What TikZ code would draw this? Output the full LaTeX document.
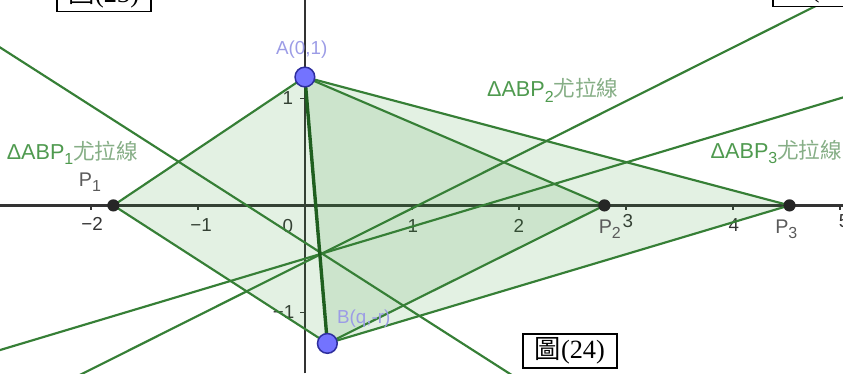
\documentclass[tikz,border=0pt]{standalone}
\usepackage{fontspec}
\setmainfont{Liberation Sans}
\newfontfamily\cjkfont{Noto Sans CJK TC}
\newfontfamily\boxserif{Liberation Serif}
\usetikzlibrary{positioning}
\definecolor{LineGreen}{HTML}{367F36}
\definecolor{SegGreen}{HTML}{1F5F1F}
\definecolor{FillGreen}{HTML}{3C9A3C}
\definecolor{TextGreen}{HTML}{4F9A4F}
\definecolor{HanGreen}{HTML}{86AE86}
\definecolor{PointBlue}{HTML}{7373FF}
\definecolor{PointRim}{HTML}{2E2E9E}
\definecolor{CoordBlue}{HTML}{9C9CE6}
\definecolor{AxisGray}{HTML}{333333}
\definecolor{LabelGray}{HTML}{5A5A5A}
\newcommand{\lowsub}[1]{\raisebox{-0.45ex}{\fontsize{8.5}{8.5}\selectfont #1}}

\begin{document}
\begin{tikzpicture}[x=2cm, y=2cm,
    every node/.style={font=\fontsize{10}{10}\selectfont},
    axisline/.style={AxisGray, line width=1.3pt},
    tickmark/.style={AxisGray, line width=0.9pt},
    ticklabel/.style={text=AxisGray, inner sep=0pt},
    side/.style={LineGreen, line width=1.15pt, line join=round},
    seg/.style={SegGreen, line width=1.8pt},
    tri/.style={fill=FillGreen, fill opacity=0.14},
    euler/.style={LineGreen, line width=1.15pt},
    eulerlabel/.style={anchor=west, inner sep=0pt, text=TextGreen, font=\fontsize{11.5}{11.5}\selectfont},
    movable/.style={circle, draw=PointRim, fill=PointBlue, line width=0.8pt, minimum size=10.5pt, inner sep=0pt},
    fixedpt/.style={circle, fill=black!85, minimum size=6.5pt, inner sep=0pt},
    ptlabel/.style={text=LabelGray, inner sep=0pt, font=\fontsize{10.5}{10.5}\selectfont},
    coordlabel/.style={text=CoordBlue, inner sep=0pt},
    figbox/.style={draw=black, line width=1pt, fill=white, inner xsep=2pt, inner ysep=1pt, minimum width=50pt, minimum height=18pt, font=\fontsize{14}{14}\selectfont}
]
\useasboundingbox (-2.85,-1.57) rectangle (5.03,1.92);
\clip (-2.85,-1.57) rectangle (5.03,1.92);
\coordinate (A) at (0,1.2);
\coordinate (B) at (0.21,-1.29);
\coordinate (P1) at (-1.79,0);
\coordinate (P2) at (2.80,0);
\coordinate (P3) at (4.53,0);
\coordinate (xl) at (-2.85,0);
\coordinate (xr) at (5.03,0);
\coordinate (yb) at (0,-1.57);
\coordinate (yt) at (0,1.92);
\coordinate (e1s) at (-3,1.573);
\coordinate (e1e) at (2.2,-1.756);
\coordinate (e2s) at (-2.6,-1.834);
\coordinate (e2e) at (5.2,2.077);
\coordinate (e3s) at (-3,-1.397);
\coordinate (e3e) at (5.2,1.060);

\draw[axisline] (xl) -- (xr);
\draw[axisline] (yb) -- (yt);
\draw[tickmark] (-2,0) -- (-2,-0.045) (-1,0) -- (-1,-0.045) (1,0) -- (1,-0.045) (2,0) -- (2,-0.045)
    (3,0) -- (3,-0.045) (4,0) -- (4,-0.045) (5,0) -- (5,-0.045) (0,1) -- (-0.05,1) (0,-1) -- (-0.05,-1);
\node[ticklabel] (tm2) at (-1.99,-0.17) {−2};
\node[ticklabel] (tm1) at (-0.97,-0.18) {−1};
\node[ticklabel] (t0) at (-0.16,-0.19) {0};
\node[ticklabel] (t1) at (1.01,-0.19) {1};
\node[ticklabel] (t2) at (2.0,-0.19) {2};
\node[ticklabel] (t3) at (3.02,-0.15) {3};
\node[ticklabel] (t4) at (4.01,-0.18) {4};
\node[ticklabel] (t5) at (5.04,-0.15) {5};
\node[ticklabel] (ty1) at (-0.16,1.0) {1};
\node[ticklabel] (tym1) at (-0.2,-1.0) {−1};

\fill[tri] (A) -- (B) -- (P1) -- cycle;
\fill[tri] (A) -- (B) -- (P2) -- cycle;
\fill[tri] (A) -- (B) -- (P3) -- cycle;
\draw[side] (A) -- (P1) -- (B);
\draw[side] (A) -- (P2) -- (B);
\draw[side] (A) -- (P3) -- (B);
\draw[euler] (e1s) -- (e1e);
\draw[euler] (e2s) -- (e2e);
\draw[euler] (e3s) -- (e3e);
\draw[seg] (A) -- (B);

\node[eulerlabel] (lab1) at (-2.79,0.49) {ΔABP\lowsub{1}{\cjkfont\color{HanGreen}尤拉線}};
\node[eulerlabel] (lab2) at (1.70,1.075) {ΔABP\lowsub{2}{\cjkfont\color{HanGreen}尤拉線}};
\node[eulerlabel] (lab3) at (3.79,0.50) {ΔABP\lowsub{3}{\cjkfont\color{HanGreen}尤拉線}};

\node[fixedpt] (p1dot) at (P1) {};
\node[fixedpt] (p2dot) at (P2) {};
\node[fixedpt] (p3dot) at (P3) {};
\node[ptlabel] (p1lab) at (-2.01,0.215) {P\lowsub{1}};
\node[ptlabel] (p2lab) at (2.85,-0.225) {P\lowsub{2}};
\node[ptlabel] (p3lab) at (4.50,-0.225) {P\lowsub{3}};
\node[movable] (adot) at (A) {};
\node[movable] (bdot) at (B) {};
\node[coordlabel] (alab) at (-0.03,1.456) {A(0,1)};
\node[coordlabel] (blab) at (0.55,-1.06) {B(q,-r)};

\node[figbox, anchor=south east] (fig23) at (-1.43,1.804) {{\cjkfont 圖}{\boxserif (23)}};
\node[figbox, anchor=south west] (fig25) at (4.364,1.85) {{\cjkfont 圖}{\boxserif (25)}};
\node[figbox, anchor=north west] (fig24) at (2.028,-1.196) {{\cjkfont 圖}{\boxserif (24)}};
\end{tikzpicture}
\end{document}
